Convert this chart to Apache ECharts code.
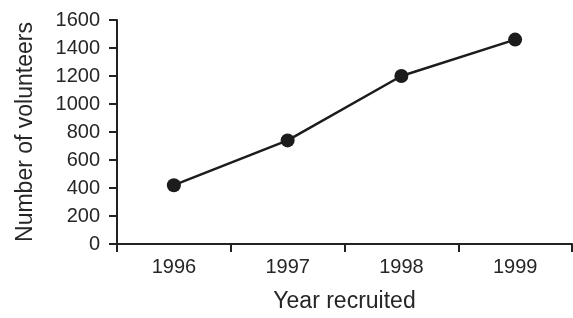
<!DOCTYPE html>
<html><head><meta charset="utf-8">
<script src="https://cdn.jsdelivr.net/npm/echarts@6/dist/echarts.min.js"></script>
<style>html,body{margin:0;padding:0;background:#fff}#c{width:573px;height:318px}</style>
</head><body><div id="c"></div>
<script>
const years = ['1996', '1997', '1998', '1999'];
const volunteers = [420, 740, 1200, 1460];
const yTicks = [0, 200, 400, 600, 800, 1000, 1200, 1400, 1600];

const chart = echarts.init(document.getElementById('c'), null, {renderer: 'canvas'});
const txt = '#262626';
chart.setOption({
  animation: false,
  backgroundColor: '#fff',
  grid: {left: 117, right: 1, top: 20, bottom: 69, containLabel: false},
  xAxis: {
    type: 'category', data: years, boundaryGap: true,
    name: 'Year recruited', nameLocation: 'middle', nameGap: 46,
    nameTextStyle: {fontFamily: 'Liberation Sans', fontSize: 23, color: txt},
    axisLine: {lineStyle: {color: '#222', width: 2}},
    axisTick: {show: true, inside: false, length: 8, alignWithLabel: false, lineStyle: {color: '#222', width: 2}},
    axisLabel: {fontFamily: 'Liberation Sans', fontSize: 20, color: txt, margin: 13},
    splitLine: {show: false}
  },
  yAxis: {
    type: 'value', min: yTicks[0], max: yTicks[yTicks.length - 1], interval: 200,
    name: 'Number of volunteers', nameLocation: 'middle', nameGap: 80, nameRotate: 90,
    nameTextStyle: {fontFamily: 'Liberation Sans', fontSize: 23, color: txt},
    axisLine: {show: true, lineStyle: {color: '#222', width: 2}},
    axisTick: {show: true, inside: false, length: 8, lineStyle: {color: '#222', width: 2}},
    axisLabel: {fontFamily: 'Liberation Sans', fontSize: 20, color: txt, margin: 17,
      formatter: v => String(v)},
    splitLine: {show: false}
  },
  series: [{
    type: 'line', data: volunteers,
    symbol: 'circle', symbolSize: 14,
    lineStyle: {color: '#1c1c1c', width: 2.5},
    itemStyle: {color: '#1c1c1c'}
  }]
});
</script></body></html>
